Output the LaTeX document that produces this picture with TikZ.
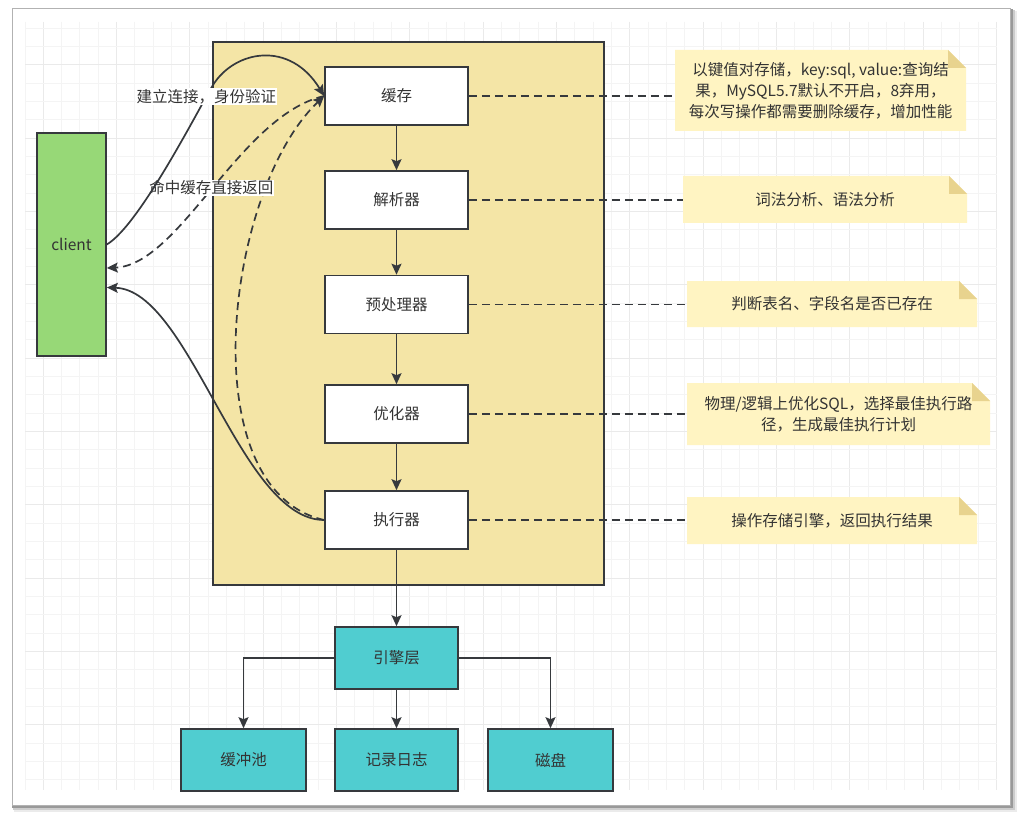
\documentclass[tikz,border=0pt]{standalone}
\usepackage{fontspec}
\setmainfont{Noto Sans CJK SC}
\usetikzlibrary{arrows.meta,calc}
\definecolor{edge}{HTML}{36393D}
\definecolor{txt}{HTML}{333333}
\definecolor{cont}{HTML}{F4E5A6}
\definecolor{teal1}{HTML}{50CDD0}
\definecolor{green1}{HTML}{97D877}
\definecolor{notefill}{HTML}{FFF4C2}
\definecolor{foldfill}{HTML}{E8D38E}
\definecolor{gridminor}{HTML}{F4F4F4}
\definecolor{gridmajor}{HTML}{EAEAEA}
\tikzset{
 wbox/.style={draw=edge, line width=1.6pt, fill=white, minimum width=143pt, minimum height=58pt, inner sep=0pt, text=txt},
 tbox/.style={draw=edge, line width=1.6pt, fill=teal1, minimum height=62pt, inner sep=0pt, text=txt},
 conn/.style={draw=edge, line width=1.7pt, -{Stealth[length=11pt,width=10pt,inset=2pt]}},
 dconn/.style={conn, dash pattern=on 8pt off 5pt},
 dline/.style={draw=edge, line width=1.7pt, dash pattern=on 8pt off 5pt},
 notetext/.style={align=center, text=txt, inner sep=0pt},
 lbl/.style={fill=white, inner sep=1pt, text=txt},
}
\newcommand\mknote[6]{%
 \fill[notefill] ({#2-#4/2},{#3-#5/2}) -- ({#2+#4/2-18},{#3-#5/2}) -- ({#2+#4/2},{#3-#5/2+18}) -- ({#2+#4/2},{#3+#5/2}) -- ({#2-#4/2},{#3+#5/2}) -- cycle;
 \fill[foldfill] ({#2+#4/2-18},{#3-#5/2}) -- ({#2+#4/2-18},{#3-#5/2+18}) -- ({#2+#4/2},{#3-#5/2+18}) -- cycle;
 \node[notetext, minimum width=#4 pt, minimum height=#5 pt] (#1) at (#2,#3) {#6};
}
\begin{document}
\begin{tikzpicture}[x=1pt,y=-1pt, font=\fontsize{15.5}{21}\selectfont]
\useasboundingbox (0,0) rectangle (1023,821);
\fill[white] (0,0) rectangle (1023,821);
% frame shadow
\fill[black!8] (14,11) rectangle (1017,812);
\fill[black!20] (13,10) rectangle (1015,810);
\fill[black!40] (12,9) rectangle (1013,808);
\filldraw[fill=white, draw=black!30, line width=0.8pt] (12,8) rectangle (1010,805);
% grid
\foreach \i in {0,...,53} {
  \pgfmathtruncatemacro\m{mod(\i,4)}
  \pgfmathsetmacro\xx{25+18.333*\i}
  \ifnum\m=1 \draw[gridmajor, line width=1pt] (\xx,22) -- (\xx,790);
  \else \draw[gridminor, line width=1pt] (\xx,22) -- (\xx,790); \fi
}
\foreach \j in {0,...,41} {
  \pgfmathtruncatemacro\m{mod(\j,4)}
  \pgfmathsetmacro\yy{28.333+18.333*\j}
  \ifnum\m=2 \draw[gridmajor, line width=1pt] (25,\yy) -- (997,\yy);
  \else \draw[gridminor, line width=1pt] (25,\yy) -- (997,\yy); \fi
}
% container
\node[draw=edge, line width=1.6pt, fill=cont, minimum width=391pt, minimum height=543pt, inner sep=0pt] (server) at (408.5,313.5) {};
% client
\node[draw=edge, line width=1.6pt, fill=green1, minimum width=69pt, minimum height=223pt, inner sep=0pt, text=txt] (client) at (71.5,244.5) {client};
% pipeline boxes
\node[wbox] (cache) at (396.5,96) {缓存};
\node[wbox] (parser) at (396.5,200) {解析器};
\node[wbox] (pre) at (396.5,304.5) {预处理器};
\node[wbox] (opt) at (396.5,414) {优化器};
\node[wbox] (exec) at (396.5,520) {执行器};
% engine
\node[tbox, minimum width=123pt] (engine) at (396.5,658) {引擎层};
\node[tbox, minimum width=125pt] (pool) at (243.5,760) {缓冲池};
\node[tbox, minimum width=123pt] (log) at (396.5,760) {记录日志};
\node[tbox, minimum width=125pt] (disk) at (550.5,760) {磁盘};
% notes
\mknote{n1}{820.5}{90.5}{291}{81}{以键值对存储，key:sql, value:查询结\\果，MySQL5.7默认不开启，8弃用，\\每次写操作都需要删除缓存，增加性能}
\mknote{n2}{825}{199.5}{284}{47}{词法分析、语法分析}
\mknote{n3}{832}{304}{290}{46}{判断表名、字段名是否已存在}
\mknote{n4}{838.5}{414}{303}{62}{物理/逻辑上优化SQL，选择最佳执行路\\径，生成最佳执行计划}
\mknote{n5}{832}{520.5}{290}{47}{操作存储引擎，返回执行结果}
% dashed links to notes
\draw[dline] (cache.east) -- (cache.east -| n1.west);
\draw[dline] (parser.east) -- (parser.east -| n2.west);
\draw[dline] (pre.east) -- (pre.east -| n3.west);
\draw[dline] (opt.east) -- (opt.east -| n4.west);
\draw[dline] (exec.east) -- (exec.east -| n5.west);
% straight arrows
\draw[conn] (cache) -- (parser);
\draw[conn] (parser) -- (pre);
\draw[conn] (pre) -- (opt);
\draw[conn] (opt) -- (exec);
\draw[conn] (exec) -- (engine);
\draw[conn] (engine) -- (log);
\draw[conn] (engine.west) -| (pool.north);
\draw[conn] (engine.east) -| (disk.north);
% curves
\draw[dconn] (exec.west) .. controls (190,490) and (225,190) .. (cache.west);
\draw[conn] (exec.west) .. controls (240,520) and (190,290) .. ($(client.east)+(0,43)$);
\draw[dconn] (cache.west) .. controls (240,115) and (180,265) .. ($(client.east)+(0,23.5)$)
  node[lbl, pos=0.5] (lab2) {命中缓存直接返回};
\draw[conn] (client.east) .. controls (140,225) and (200,106) .. (213,85)
  node[lbl, pos=0.88] (lab1) {建立连接，身份验证}
  .. controls (235,50) and (290,40) .. (cache.west);
\end{tikzpicture}
\end{document}
